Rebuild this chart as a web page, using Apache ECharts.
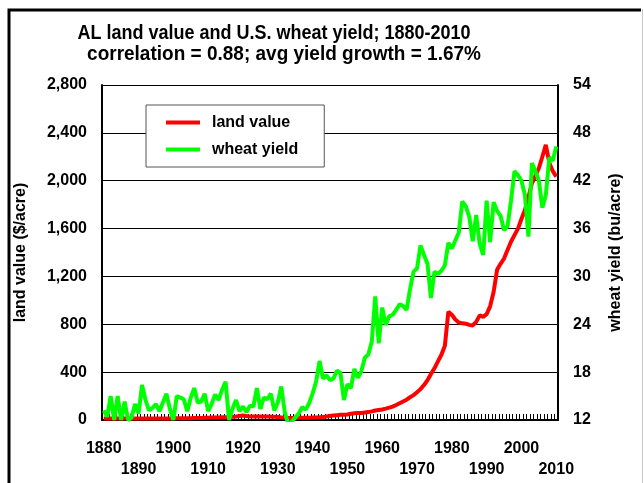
<!DOCTYPE html>
<html>
<head>
<meta charset="utf-8">
<script src="https://cdn.jsdelivr.net/npm/echarts@6/dist/echarts.min.js"></script>
<style>
  html, body { margin: 0; padding: 0; background: #fff; }
  #chart--main { width: 644px; height: 483px; }
</style>
</head>
<body>
<div id="chart--main"></div>
<script>
const years = [];
for (let y = 1880; y <= 2010; y++) years.push(String(y));

// AL land value, $/acre, 1880-2010
const landValue = [
  12, 12, 12, 12, 12, 12, 12, 12, 12, 12,
  13, 13, 13, 13, 13, 13, 13, 13, 13, 13,
  14, 14, 14, 15, 15, 15, 16, 16, 17, 18,
  19, 20, 20, 21, 22, 22, 24, 27, 30, 34,
  37, 33, 30, 30, 30, 30, 29, 29, 28, 28,
  26, 22, 18, 16, 17, 18, 19, 19, 19, 19,
  20, 21, 23, 26, 29, 33, 37, 40, 43, 44,
  46, 52, 56, 58, 59, 62, 66, 72, 79, 84,
  88, 95, 103, 112, 125, 140, 155, 170, 190, 208,
  232, 258, 292, 332, 385, 432, 490, 545, 620, 905,
  880, 840, 815, 808, 805, 795, 790, 820, 875, 862,
  885, 950, 1070, 1255, 1305, 1350, 1420, 1490, 1545, 1600,
  1680, 1755, 1860, 1978, 2040, 2104, 2200, 2300, 2150, 2080,
  2034
];

// U.S. wheat yield, bu/acre, 1880-2010
const wheatYield = [
  13.2, 12.4, 15.0, 12.0, 15.0, 12.0, 14.3, 12.0, 12.3, 14.0,
  12.8, 16.4, 14.5, 13.2, 13.5, 14.0, 13.1, 14.2, 15.3, 13.4,
  12.0, 15.0, 14.8, 14.6, 13.1, 14.8, 16.0, 14.2, 14.3, 15.3,
  13.1, 14.0, 15.2, 14.5, 15.8, 16.8, 12.0, 13.4, 14.5, 13.1,
  13.7, 13.0, 13.8, 13.7, 16.0, 13.4, 14.8, 14.6, 15.3, 13.2,
  14.2, 16.2, 13.0, 11.5, 11.8, 12.3, 12.8, 13.6, 13.3, 14.1,
  15.3, 16.8, 19.4, 17.2, 17.6, 17.0, 17.2, 18.2, 17.9, 14.5,
  16.5, 16.0, 18.4, 17.3, 18.1, 19.8, 20.2, 21.8, 27.5, 21.6,
  26.1, 23.9, 25.0, 25.2, 25.8, 26.5, 26.3, 25.8, 28.4, 30.6,
  31.0, 33.9, 32.7, 31.6, 27.3, 30.6, 30.3, 30.7, 31.4, 34.2,
  33.5, 34.5, 35.5, 39.4, 38.8, 37.5, 34.4, 37.7, 34.1, 32.7,
  39.5, 34.3, 39.3, 38.2, 37.6, 35.8, 36.3, 39.5, 43.2, 42.7,
  42.0, 40.2, 35.0, 44.2, 43.2, 42.0, 38.6, 40.2, 44.9, 44.5,
  46.3
];

const titleText = 'AL land value and U.S. wheat yield; 1880-2010';
const subText = 'correlation = 0.88; avg yield growth = 1.67%';

const fontFam = 'Arial, "Liberation Sans", sans-serif';
const myChart = echarts.init(document.getElementById('chart--main'));

const yearLabel = { fontSize: 16, fontWeight: 'bold', color: '#000', hideOverlap: false };

let option = {
  animation: false,
  backgroundColor: '#fff',
  textStyle: { fontFamily: fontFam, color: '#000' },
  graphic: [
    {
      type: 'polyline', silent: true,
      shape: { points: [[9, 483], [9, 10], [641, 10]] },
      style: { stroke: '#000', lineWidth: 3, fill: null }
    },
    {
      type: 'line', silent: true,
      shape: { x1: 642.5, y1: 9, x2: 642.5, y2: 483 },
      style: { stroke: '#c8c8c8', lineWidth: 1 }
    },
    {
      type: 'text', x: 274, y: 33, scaleY: 1.15, silent: true,
      style: {
        text: titleText, fontFamily: fontFam, fontWeight: 'bold', fontSize: 18,
        fill: '#000', align: 'center', verticalAlign: 'middle'
      }
    },
    {
      type: 'text', x: 284, y: 54, scaleY: 1.1, silent: true,
      style: {
        text: subText, fontFamily: fontFam, fontWeight: 'bold', fontSize: 19,
        fill: '#000', align: 'center', verticalAlign: 'middle'
      }
    }
  ],
  legend: {
    orient: 'vertical',
    left: 146,
    top: 105,
    padding: [9, 26, 9, 20],
    itemGap: 10,
    itemWidth: 34,
    itemHeight: 4,
    itemStyle: { borderWidth: 0 },
    icon: 'rect',
    backgroundColor: '#fff',
    borderColor: '#555',
    borderWidth: 1,
    textStyle: { fontFamily: fontFam, fontWeight: 'bold', fontSize: 16, lineHeight: 17, color: '#000', padding: [0, 0, 0, 7] },
    data: ['land value', 'wheat yield']
  },
  grid: {
    left: 102,
    right: 86,
    top: 85,
    bottom: 63
  },
  xAxis: [
    {
      // even decades, first row
      type: 'category',
      boundaryGap: true,
      data: years,
      axisLine: { lineStyle: { color: '#000', width: 2 } },
      axisTick: { show: true, interval: 0, inside: true, length: 6, lineStyle: { color: '#000', width: 1 } },
      axisLabel: Object.assign({}, yearLabel, {
        margin: 21,
        showMinLabel: true,
        interval: function (i) { return i % 20 === 0; }
      }),
      splitLine: { show: false }
    },
    {
      // odd decades, second row
      type: 'category',
      position: 'bottom',
      boundaryGap: true,
      data: years,
      axisLine: { show: false },
      axisTick: { show: false },
      axisLabel: Object.assign({}, yearLabel, {
        margin: 42,
        showMaxLabel: true,
        interval: function (i) { return i % 20 === 10; }
      }),
      splitLine: { show: false }
    }
  ],
  yAxis: [
    {
      type: 'value',
      name: 'land value ($/acre)',
      nameLocation: 'middle',
      nameGap: 73,
      nameRotate: 90,
      nameTextStyle: { fontFamily: fontFam, fontWeight: 'bold', fontSize: 16, color: '#000' },
      min: 0,
      max: 2800,
      interval: 400,
      axisLine: { show: true, lineStyle: { color: '#000', width: 2 } },
      axisTick: { show: false },
      axisLabel: {
        margin: 15, fontSize: 16, fontWeight: 'bold', color: '#000',
        formatter: function (v) { return v.toLocaleString('en-US'); }
      },
      splitLine: { show: true, lineStyle: { color: '#000', width: 1 } }
    },
    {
      type: 'value',
      name: 'wheat yield (bu/acre)',
      nameLocation: 'middle',
      nameGap: 50,
      nameRotate: 90,
      nameTextStyle: { fontFamily: fontFam, fontWeight: 'bold', fontSize: 16, color: '#000' },
      min: 12,
      max: 54,
      interval: 6,
      axisLine: { show: true, lineStyle: { color: '#000', width: 2 } },
      axisTick: { show: false },
      axisLabel: { margin: 15, fontSize: 16, fontWeight: 'bold', color: '#000' },
      splitLine: { show: false }
    }
  ],
  series: [
    {
      name: 'land value',
      type: 'line',
      xAxisIndex: 0,
      yAxisIndex: 0,
      showSymbol: false,
      symbol: 'none',
      itemStyle: { color: '#ff0000' },
      lineStyle: { color: '#ff0000', width: 4 },
      data: landValue
    },
    {
      name: 'wheat yield',
      type: 'line',
      xAxisIndex: 0,
      yAxisIndex: 1,
      showSymbol: false,
      symbol: 'none',
      itemStyle: { color: '#00ff00' },
      lineStyle: { color: '#00ff00', width: 4 },
      data: wheatYield
    }
  ]
};

myChart.setOption(option);
</script>
</body>
</html>
